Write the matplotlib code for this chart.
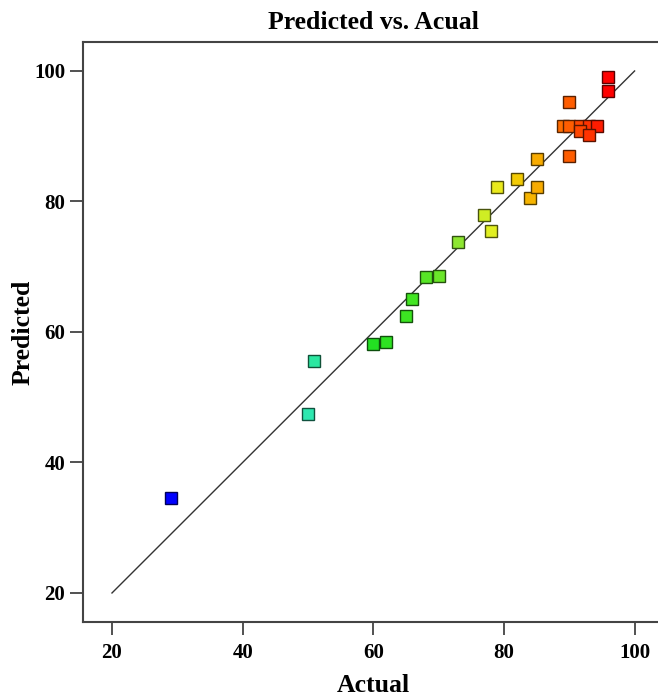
import numpy as np
import matplotlib
matplotlib.use('Agg')
from matplotlib import pyplot as plt
from matplotlib.colors import LinearSegmentedColormap, Normalize

# actual vs predicted values
actual = [29, 50, 51, 60, 62, 65, 66, 68, 70, 73, 77, 78, 79, 82, 84, 85, 85,
          89, 90, 91.6, 93, 94.2, 91.7, 93, 90, 90, 96, 96]
predicted = [34.6, 47.4, 55.6, 58.2, 58.5, 62.5, 65.1, 68.4, 68.6, 73.8, 77.9, 75.5, 82.2, 83.4, 80.5, 82.2, 86.5,
             91.6, 91.6, 91.6, 91.6, 91.6, 90.8, 90.2, 95.2, 87.0, 99.0, 96.9]
ticks = [20, 40, 60, 80, 100]

plt.rcParams['font.family'] = ['Liberation Serif', 'DejaVu Serif']
plt.rcParams['font.weight'] = 'bold'

cmap = LinearSegmentedColormap.from_list('de', [
    (0.0, '#0000ff'), (0.31, '#2ee8b4'), (0.46, '#22e022'), (0.56, '#44e622'),
    (0.66, '#8ee630'), (0.74, '#e8f020'), (0.80, '#f4c400'), (0.84, '#f8a800'),
    (0.90, '#ff6a00'), (0.96, '#ff3000'), (1.0, '#ff0000')])
norm = Normalize(vmin=29, vmax=96)

fig = plt.figure(figsize=(6.58, 6.98), dpi=100)
ax = fig.add_axes([0.1257, 0.1082, 0.8834, 0.8321])

ax.plot([20, 100], [20, 100], color='#333333', lw=1.0, zorder=1)

for a, p in zip(actual, predicted):
    fc = np.array(cmap(norm(a)))
    ec = fc.copy()
    ec[:3] = fc[:3] * 0.35
    ax.plot(a, p, marker='s', ms=8.3, mfc=fc, mec=ec, mew=1.0, ls='none', zorder=2)

ax.set_xlim(15.52, 104.5)
ax.set_ylim(15.48, 104.49)
ax.set_xticks(ticks)
ax.set_yticks(ticks)
ax.tick_params(direction='out', length=9.5, width=1.2, color='#333333', labelsize=15)
ax.tick_params(axis='x', pad=5)
ax.tick_params(axis='y', pad=3)
for lab in ax.get_xticklabels() + ax.get_yticklabels():
    lab.set_fontweight('bold')
for s in ax.spines.values():
    s.set_color('#444444')
    s.set_linewidth(1.5)

ax.set_title('Predicted vs. Acual', fontsize=18.5, fontweight='bold', pad=9)
ax.set_xlabel('Actual', fontsize=18.5, fontweight='bold', labelpad=8)
ax.set_ylabel('Predicted', fontsize=18.5, fontweight='bold', labelpad=0)

plt.savefig('out.png', dpi=100)
